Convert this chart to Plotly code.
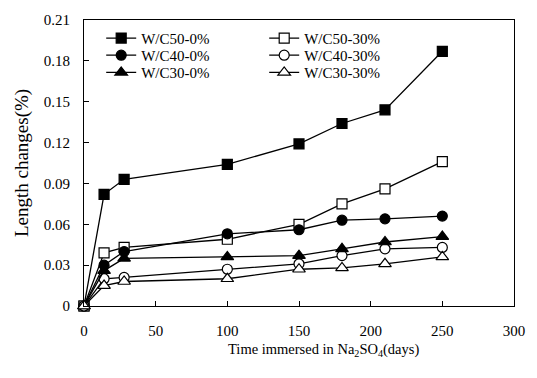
import plotly.graph_objects as go

days = [0, 14, 28, 100, 150, 180, 210, 250]
series_names = ["W/C50-0%", "W/C50-30%", "W/C40-0%", "W/C40-30%", "W/C30-0%", "W/C30-30%"]
wc50_0 = [0, 0.082, 0.093, 0.104, 0.119, 0.134, 0.144, 0.187]
wc50_30 = [0, 0.039, 0.043, 0.049, 0.060, 0.075, 0.086, 0.106]
wc40_0 = [0, 0.030, 0.040, 0.053, 0.056, 0.063, 0.064, 0.066]
wc40_30 = [0, 0.020, 0.021, 0.027, 0.031, 0.037, 0.042, 0.043]
wc30_0 = [0, 0.026, 0.035, 0.036, 0.037, 0.042, 0.047, 0.051]
wc30_30 = [0, 0.015, 0.018, 0.020, 0.027, 0.028, 0.031, 0.036]
values = [wc50_0, wc50_30, wc40_0, wc40_30, wc30_0, wc30_30]

x_ticks = [0, 50, 100, 150, 200, 250, 300]
y_ticks = [0, 0.03, 0.06, 0.09, 0.12, 0.15, 0.18, 0.21]
y_ticktext = ["0", "0.03", "0.06", "0.09", "0.12", "0.15", "0.18", "0.21"]

symbols = ["square", "square", "circle", "circle", "triangle-up", "triangle-up"]
fills = ["black", "white", "black", "white", "black", "white"]
sizes = [10, 10, 10, 10, 11, 11]
legend_ids = ["legend", "legend", "legend2", "legend2", "legend3", "legend3"]

font = "Liberation Serif, Times New Roman, serif"

fig = go.Figure()
for name, vals, sym, fc, sz, lg in zip(series_names, values, symbols, fills, sizes, legend_ids):
    fig.add_trace(go.Scatter(
        x=days, y=vals, name=name, legend=lg,
        mode="lines+markers",
        line=dict(color="black", width=1.3),
        marker=dict(symbol=sym, size=sz, color=fc, line=dict(color="black", width=1.2)),
        cliponaxis=False,
    ))

def legend_row(y):
    return dict(
        orientation="h", x=0.04, y=y, xanchor="left", yanchor="middle",
        entrywidth=118, entrywidthmode="pixels",
        font=dict(family=font, size=15, color="black"),
        bgcolor="rgba(0,0,0,0)", tracegroupgap=0,
    )

fig.update_layout(
    width=537, height=378,
    margin=dict(l=84, r=15, t=17, b=72),
    paper_bgcolor="white", plot_bgcolor="white",
    font=dict(family=font, size=15, color="black"),
    legend=legend_row(0.936),
    legend2=legend_row(0.876),
    legend3=legend_row(0.816),
    showlegend=True,
    annotations=[dict(
        text="Time immersed in Na<sub>2</sub>SO<sub>4</sub>(days)",
        xref="paper", yref="paper", x=0.557, y=-0.155,
        xanchor="center", yanchor="middle", showarrow=False,
        font=dict(family=font, size=14.5, color="black"),
    )],
)
fig.update_xaxes(
    range=[0, 300], tickvals=x_ticks, ticks="inside", ticklen=5, tickcolor="black",
    showline=True, linecolor="black", linewidth=1, mirror=True, showgrid=False, zeroline=False,
    ticklabelstandoff=11,
)
fig.update_yaxes(
    range=[0, 0.21], tickvals=y_ticks, ticktext=y_ticktext, ticks="inside", ticklen=5,
    tickcolor="black", showline=True, linecolor="black", linewidth=1, mirror=True,
    showgrid=False, zeroline=False, ticklabelstandoff=10,
    title=dict(text="Length changes(%)", standoff=10, font=dict(family=font, size=19)),
)

fig.write_html("out.html")
